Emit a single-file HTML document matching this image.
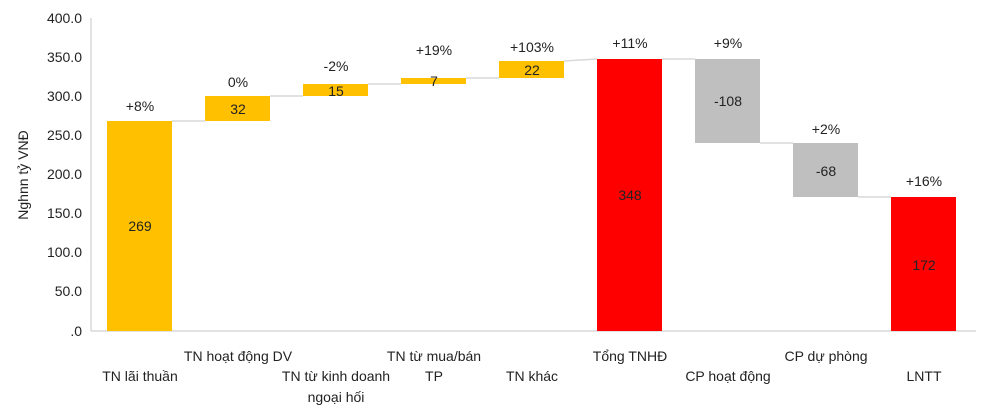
<!DOCTYPE html>
<html><head><meta charset="utf-8"><style>
html,body{margin:0;padding:0;background:#fff;}
svg{display:block;font-family:"Liberation Sans Narrow","Liberation Sans",sans-serif;}
</style></head><body>
<svg width="983" height="416" viewBox="0 0 983 416" xmlns="http://www.w3.org/2000/svg">
<g fill="none" stroke="#d9d9d9" stroke-width="1.5">
<line x1="91" y1="18" x2="91" y2="331"/>
<line x1="91" y1="331" x2="976" y2="331"/>
<line x1="172" y1="121" x2="205" y2="121"/>
<line x1="270" y1="96" x2="303" y2="96"/>
<line x1="368" y1="84" x2="401" y2="84"/>
<line x1="466" y1="78" x2="499" y2="78"/>
<line x1="564" y1="61" x2="597" y2="59"/>
<line x1="662" y1="59" x2="695" y2="59"/>
<line x1="760" y1="143" x2="793" y2="143"/>
<line x1="858" y1="197" x2="891" y2="197"/>
</g>
<g font-size="14" fill="#222" text-anchor="end">
<text x="82" y="23">400.0</text><text x="82" y="62">350.0</text><text x="82" y="101">300.0</text>
<text x="82" y="140">250.0</text><text x="82" y="179">200.0</text><text x="82" y="218">150.0</text>
<text x="82" y="257">100.0</text><text x="82" y="296">50.0</text><text x="82" y="336">.0</text>
</g>
<text transform="translate(28,175) rotate(-90)" font-size="14" fill="#222" text-anchor="middle">Nghnn tỷ VNĐ</text>
<rect x="107" y="121" width="65" height="210" fill="#ffc000"/>
<rect x="205" y="96" width="65" height="25" fill="#ffc000"/>
<rect x="303" y="84" width="65" height="12" fill="#ffc000"/>
<rect x="401" y="78" width="65" height="6" fill="#ffc000"/>
<rect x="499" y="61" width="65" height="17" fill="#ffc000"/>
<rect x="597" y="59" width="65" height="272" fill="#ff0000"/>
<rect x="695" y="59" width="65" height="84" fill="#bfbfbf"/>
<rect x="793" y="143" width="65" height="54" fill="#bfbfbf"/>
<rect x="891" y="197" width="65" height="134" fill="#ff0000"/>
<g font-size="14" fill="#222" text-anchor="middle">
<text x="140" y="231">269</text><text x="238" y="114">32</text><text x="336" y="96">15</text>
<text x="434" y="86">7</text><text x="532" y="75">22</text><text x="630" y="200">348</text>
<text x="728" y="106">-108</text><text x="826" y="176">-68</text><text x="924" y="270">172</text>
<text x="140" y="111">+8%</text><text x="238" y="87">0%</text><text x="336" y="71">-2%</text>
<text x="434" y="55">+19%</text><text x="532" y="52">+103%</text><text x="630" y="48">+11%</text>
<text x="728" y="48">+9%</text><text x="826" y="134">+2%</text><text x="924" y="186">+16%</text>
<text x="140" y="381">TN lãi thuần</text>
<text x="238" y="361">TN hoạt động DV</text>
<text x="336" y="381">TN từ kinh doanh</text><text x="336" y="402">ngoại hối</text>
<text x="434" y="361">TN từ mua/bán</text><text x="434" y="381">TP</text>
<text x="532" y="381">TN khác</text>
<text x="630" y="361">Tổng TNHĐ</text>
<text x="728" y="381">CP hoạt động</text>
<text x="826" y="361">CP dự phòng</text>
<text x="924" y="381">LNTT</text>
</g>
</svg>
</body></html>
